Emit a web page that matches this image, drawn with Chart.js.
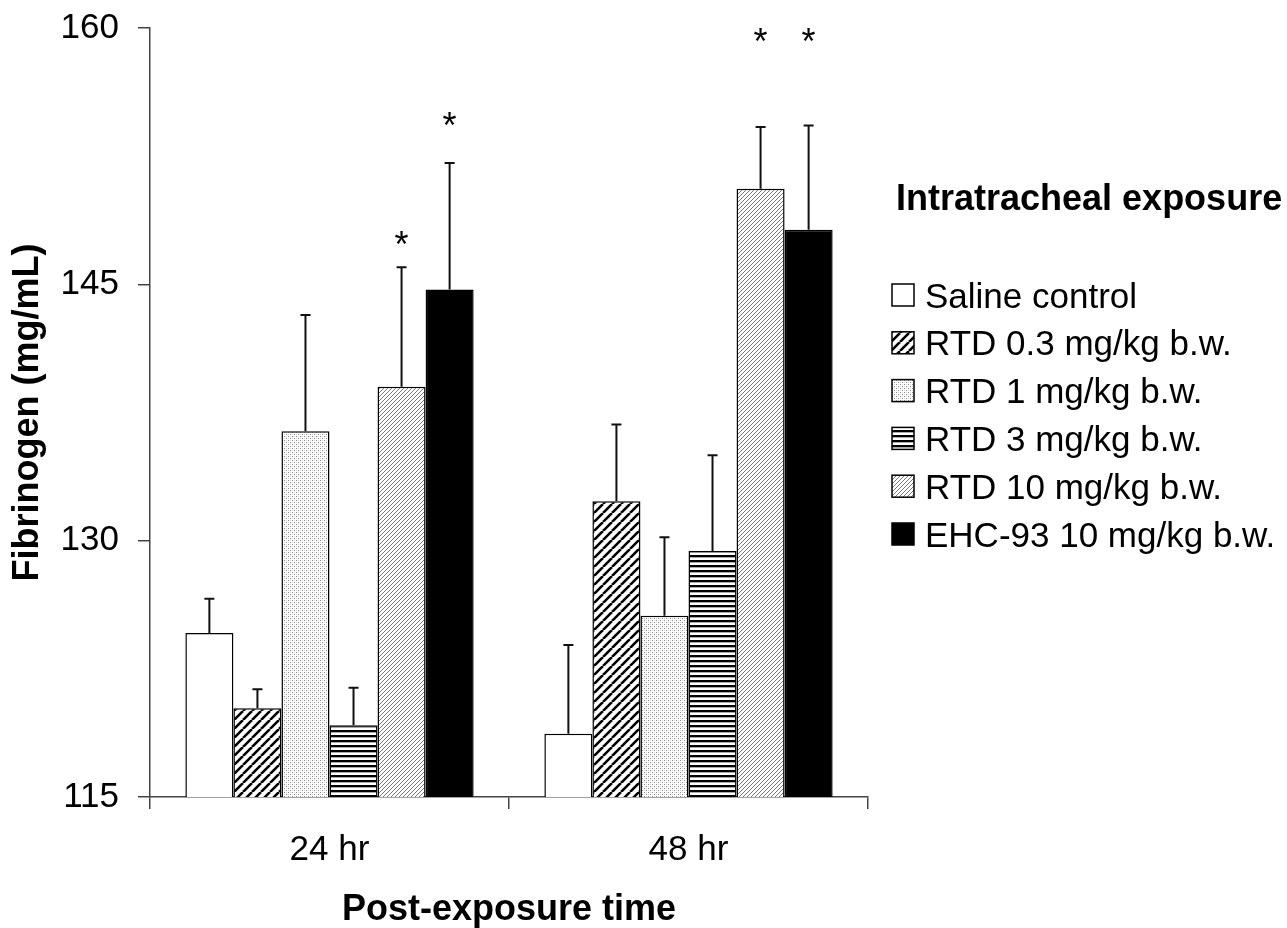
<!DOCTYPE html>
<html>
<head>
<meta charset="utf-8">
<script src="https://cdn.jsdelivr.net/npm/chart.js@4.4.1/dist/chart.umd.min.js"></script>
<style>
body { margin: 0; background: #fff; }
</style>
</head>
<body>
<canvas id="chart" width="1287" height="928"></canvas>
<script>
var categories = ['24 hr', '48 hr'];
var seriesNames = ['Saline control', 'RTD 0.3 mg/kg b.w.', 'RTD 1 mg/kg b.w.', 'RTD 3 mg/kg b.w.', 'RTD 10 mg/kg b.w.', 'EHC-93 10 mg/kg b.w.'];

// bar heights (mean)
var saline = [124.6, 118.7];
var rtd03 = [120.2, 132.3];
var rtd1 = [136.4, 125.6];
var rtd3 = [119.2, 129.4];
var rtd10 = [139.0, 150.6];
var ehc93 = [144.7, 148.2];

// upper end of error bars
var salineErr = [126.6, 123.9];
var rtd03Err = [121.3, 136.8];
var rtd1Err = [143.2, 130.2];
var rtd3Err = [121.4, 135.0];
var rtd10Err = [146.0, 154.2];
var ehc93Err = [152.1, 154.3];

// where the significance stars sit (null = no star)
var rtd10Star = [147.4, 159.3];
var ehc93Star = [154.4, 159.3];

var yTicks = [115, 130, 145, 160];

var FONT = "'Liberation Sans', Arial, sans-serif";

function makePattern(w, h, draw) {
    var c = document.createElement('canvas');
    c.width = w;
    c.height = h;
    var g = c.getContext('2d');
    g.fillStyle = '#fff';
    g.fillRect(0, 0, w, h);
    draw(g);
    return document.getElementById('chart').getContext('2d').createPattern(c, 'repeat');
}

var boldHatch = makePattern(9, 9, function(g) {
    g.strokeStyle = '#000';
    g.lineWidth = 2.6;
    g.beginPath();
    for (var k = -1; k <= 1; k++) {
        g.moveTo(k * 9, 9);
        g.lineTo(k * 9 + 9, 0);
    }
    g.stroke();
});
var dots = makePattern(4, 4, function(g) {
    g.fillStyle = '#8a8a8a';
    g.fillRect(0, 0, 1, 1);
    g.fillRect(2, 2, 1, 1);
    g.fillStyle = '#d8d8d8';
    g.fillRect(2, 0, 1, 1);
    g.fillRect(0, 2, 1, 1);
});
var hLines = makePattern(4, 5, function(g) {
    g.fillStyle = '#000';
    g.fillRect(0, 0, 4, 2);
    g.fillStyle = '#aaa';
    g.fillRect(0, 2, 4, 1);
});
var fineHatch = makePattern(4, 4, function(g) {
    g.strokeStyle = '#777';
    g.lineWidth = 1;
    g.beginPath();
    for (var k = -1; k <= 1; k++) {
        g.moveTo(k * 4, 4);
        g.lineTo(k * 4 + 4, 0);
    }
    g.stroke();
});

var fills = ['#ffffff', boldHatch, dots, hLines, fineHatch, '#000000'];
var values = [saline, rtd03, rtd1, rtd3, rtd10, ehc93];
var errs = [salineErr, rtd03Err, rtd1Err, rtd3Err, rtd10Err, ehc93Err];
var stars = [null, null, null, null, rtd10Star, ehc93Star];

var datasets = [];
for (var d = 0; d < values.length; d++) {
    datasets.push({
        label: seriesNames[d],
        data: values[d],
        backgroundColor: fills[d],
        borderColor: '#000',
        borderWidth: 1.5,
        borderSkipped: 'start',
        categoryPercentage: 0.803,
        barPercentage: 1.0
    });
}

var errorBars = {
    id: 'errorBars',
    afterDatasetsDraw: function(chart) {
        var ctx = chart.ctx;
        var y = chart.scales.y;
        ctx.save();
        for (var d = 0; d < errs.length; d++) {
            var meta = chart.getDatasetMeta(d);
            for (var i = 0; i < meta.data.length; i++) {
                var bar = meta.data[i];
                var top = y.getPixelForValue(errs[d][i]);
                ctx.strokeStyle = '#111';
                ctx.lineWidth = 2;
                ctx.beginPath();
                ctx.moveTo(bar.x, bar.y);
                ctx.lineTo(bar.x, top);
                ctx.moveTo(bar.x - 5, top);
                ctx.lineTo(bar.x + 5, top);
                ctx.stroke();
                if (stars[d] && stars[d][i] != null) {
                    var sy = y.getPixelForValue(stars[d][i]);
                    ctx.fillStyle = '#000';
                    ctx.font = '36px ' + FONT;
                    ctx.textAlign = 'center';
                    ctx.textBaseline = 'alphabetic';
                    ctx.fillText('*', bar.x, sy + 14);
                }
            }
        }
        ctx.restore();
    }
};

var sideLegend = {
    id: 'sideLegend',
    afterDraw: function(chart) {
        var ctx = chart.ctx;
        ctx.save();
        ctx.fillStyle = '#000';
        ctx.textAlign = 'left';
        ctx.textBaseline = 'alphabetic';
        ctx.font = 'bold 36px ' + FONT;
        ctx.fillText('Intratracheal exposure', 896, 210);
        ctx.font = '35px ' + FONT;
        for (var d = 0; d < seriesNames.length; d++) {
            var cy = 295 + d * 47.8;
            ctx.fillStyle = fills[d];
            ctx.fillRect(892, cy - 11, 22, 22);
            ctx.strokeStyle = '#000';
            ctx.lineWidth = 1.5;
            ctx.strokeRect(892, cy - 11, 22, 22);
            ctx.fillStyle = '#000';
            ctx.fillText(seriesNames[d], 925, cy + 12.5);
        }
        ctx.restore();
    }
};

new Chart(document.getElementById('chart'), {
    type: 'bar',
    data: {
        labels: categories,
        datasets: datasets
    },
    options: {
        responsive: false,
        animation: false,
        devicePixelRatio: 1,
        layout: { padding: { top: 28, right: 419, left: 0, bottom: 0 } },
        plugins: {
            legend: { display: false },
            tooltip: { enabled: false }
        },
        scales: {
            x: {
                afterFit: function(scale) {
                    scale.height = 131;
                    scale.paddingLeft = 0;
                    scale.paddingRight = 0;
                },
                border: { color: '#444', width: 1.5 },
                grid: { drawOnChartArea: false, tickLength: 12, color: '#444', lineWidth: 1.5, offset: true },
                ticks: { color: '#000', padding: 20, font: { family: FONT, size: 35 } },
                title: {
                    display: true,
                    text: 'Post-exposure time',
                    color: '#000',
                    padding: { top: 0, bottom: 0 },
                    font: { family: FONT, size: 36, weight: 'bold', lineHeight: 1 }
                }
            },
            y: {
                min: 115,
                max: 160,
                afterFit: function(scale) {
                    scale.width = 150;
                    scale.paddingTop = 0;
                    scale.paddingBottom = 0;
                },
                afterBuildTicks: function(scale) {
                    scale.ticks = yTicks.map(function(v) { return { value: v }; });
                },
                border: { color: '#444', width: 1.5 },
                grid: { drawOnChartArea: false, tickLength: 12, color: '#444', lineWidth: 1.5 },
                ticks: { color: '#000', padding: 19, font: { family: FONT, size: 35 } },
                title: {
                    display: true,
                    text: 'Fibrinogen (mg/mL)',
                    color: '#000',
                    padding: { top: 10, bottom: 0 },
                    font: { family: FONT, size: 36, weight: 'bold', lineHeight: 1 }
                }
            }
        }
    },
    plugins: [errorBars, sideLegend]
});
</script>
</body>
</html>
